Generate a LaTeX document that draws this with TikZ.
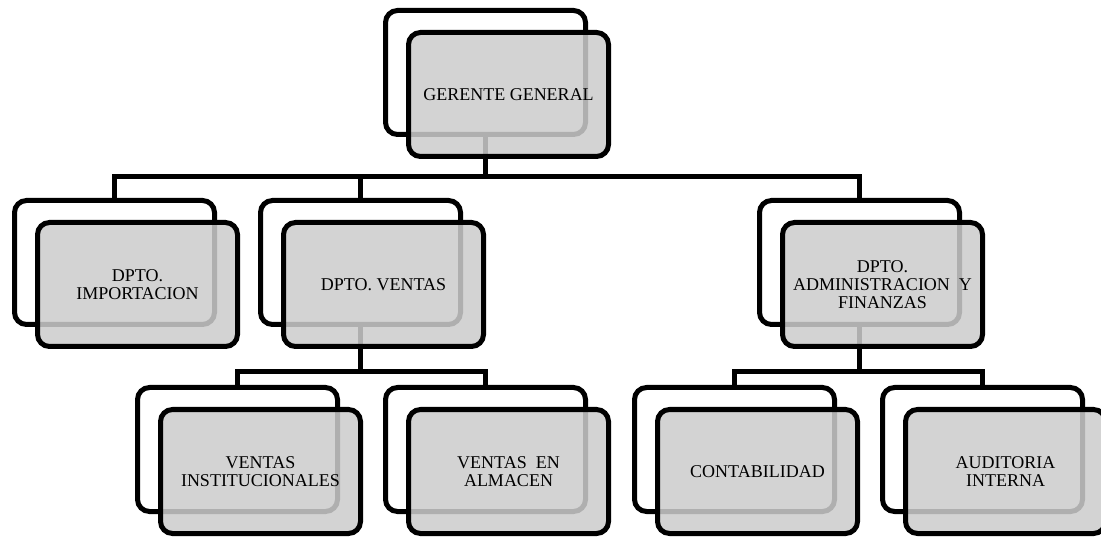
\documentclass[tikz,border=0pt]{standalone}
\usepackage{fontspec}
\setmainfont{Liberation Serif}
\begin{document}
\begin{tikzpicture}[x=1pt,y=-1pt,
  backbox/.style={draw=black,line width=5pt,rounded corners=12pt,fill=white,
    minimum width=200pt,minimum height=124pt,inner sep=0pt},
  frontbox/.style={draw=black,line width=5pt,rounded corners=12pt,fill=black!20,fill opacity=0.86,
    text opacity=1,minimum width=200pt,minimum height=124pt,inner sep=0pt,align=center,
    font=\fontsize{18}{17.8}\selectfont},
  conn/.style={draw=black,line width=5pt}]
\useasboundingbox (0,0) rectangle (1101,537);
\clip (0,0) rectangle (1101,537);
% back boxes
\node[backbox] (ggb) at (485.5,72.5) {};
\node[backbox] (impb) at (114.5,262.5) {};
\node[backbox] (venb) at (360.5,262.5) {};
\node[backbox] (admb) at (859.5,262.5) {};
\node[backbox] (vib) at (237.5,449.5) {};
\node[backbox] (vab) at (485.5,449.5) {};
\node[backbox] (conb) at (734.5,449.5) {};
\node[backbox] (audb) at (982.5,449.5) {};
% bus levels
\coordinate (bus1) at (0,177);
\coordinate (bus2) at (0,372);
% connectors
\draw[conn] (ggb.south) -- (ggb.south |- bus1) -| (impb.north);
\draw[conn] (ggb.south |- bus1) -| (venb.north);
\draw[conn] (ggb.south |- bus1) -| (admb.north);
\draw[conn] (venb.south) -- (venb.south |- bus2) -| (vib.north);
\draw[conn] (venb.south |- bus2) -| (vab.north);
\draw[conn] (admb.south) -- (admb.south |- bus2) -| (conb.north);
\draw[conn] (admb.south |- bus2) -| (audb.north);
% front boxes
\node[frontbox] (gg) at (508.5,94.5) {\raisebox{-1.5pt}{GERENTE GENERAL}};
\node[frontbox] (imp) at (137.5,284.5) {DPTO.\\IMPORTACION};
\node[frontbox] (ven) at (383.5,284.5) {DPTO. VENTAS};
\node[frontbox] (adm) at (882.5,284.5) {DPTO.\\ADMINISTRACION\ \ Y\\FINANZAS};
\node[frontbox] (vi) at (260.5,471.5) {VENTAS\\INSTITUCIONALES};
\node[frontbox] (va) at (508.5,471.5) {VENTAS\ \ EN\\ALMACEN};
\node[frontbox] (con) at (757.5,471.5) {CONTABILIDAD};
\node[frontbox] (aud) at (1005.5,471.5) {AUDITORIA\\INTERNA};
\end{tikzpicture}
\end{document}
